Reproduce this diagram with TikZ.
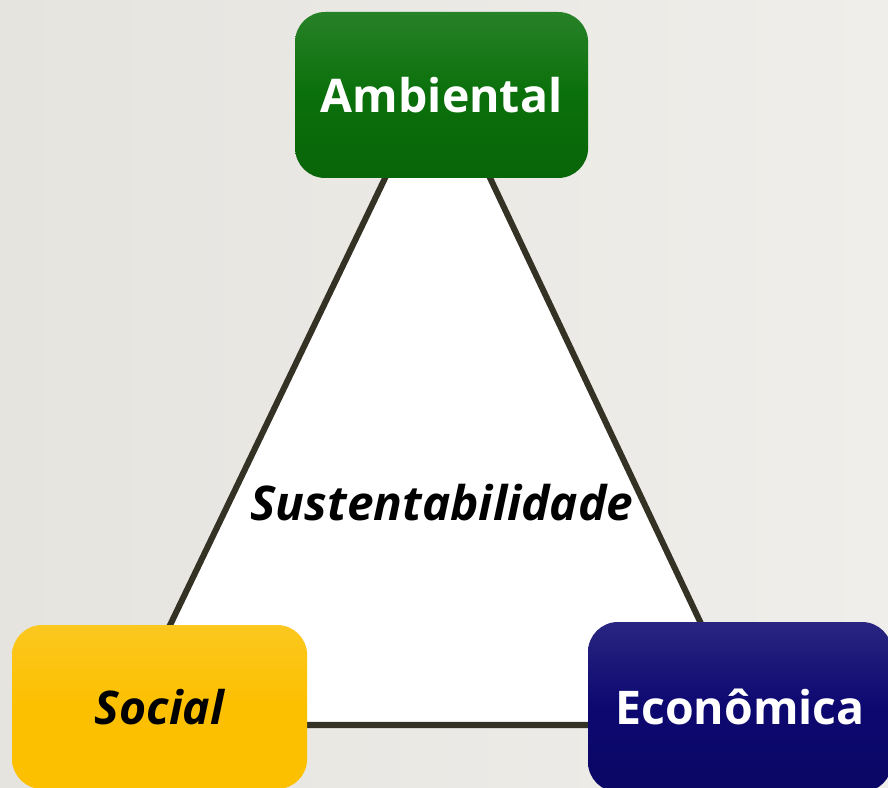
\documentclass[tikz,border=0pt]{standalone}
\usepackage{fontspec}
\setmainfont{Open Sans}
\definecolor{fundo}{RGB}{230,228,223}
\definecolor{fundoclaro}{RGB}{239,238,234}
\definecolor{verde}{RGB}{10,112,10}
\definecolor{amarelo}{RGB}{252,192,0}
\definecolor{azul}{RGB}{12,8,112}
\definecolor{contorno}{RGB}{52,50,36}
\tikzset{
  caixa/.style={rounded corners=0.75cm, inner sep=0pt, font=\fontsize{33}{40}\selectfont\bfseries},
  lado/.style={line width=4.3pt, color=contorno, fill=white, line join=round},
}

\begin{document}
\begin{tikzpicture}
			%%%%% FUNDO %%%%%
			\useasboundingbox (0, 0) rectangle (22.2, 19.675);
			\shade[left color=fundo, right color=fundoclaro] (0, 0) rectangle (22.2, 19.675);
			
			%%%%% TRIANGULO %%%%%
			\coordinate (topo) at (10.95, 17.975);
			\coordinate (esq) at (3.05, 1.55);
			\coordinate (dir) at (18.725, 1.55);
			\draw[lado] (topo) -- (esq) -- (dir) -- cycle;
			
			\node[font=\fontsize{34}{40}\selectfont\bfseries\itshape] (sustent) at (11.05, 7.1) {Sustentabilidade};
			
			%%%%% CAIXAS %%%%%
			\node[caixa, top color=verde!88!white, bottom color=verde!90!black, middle color=verde, text=white, minimum width=7.325cm, minimum height=4.15cm] (ambiental) at (11.04, 17.3) {Ambiental};
			\node[caixa, top color=amarelo!88!white, bottom color=amarelo, middle color=amarelo, text=black, font=\fontsize{33}{40}\selectfont\bfseries\itshape, minimum width=7.375cm, minimum height=4.1cm] (social) at (3.99, 2.0) {Social};
			\node[caixa, top color=azul!88!white, bottom color=azul!90!black, middle color=azul, text=white, minimum width=7.6cm, minimum height=4.25cm] (economica) at (18.5, 2.0) {Econômica};
			
			%%%%% FIM %%%%%
		\end{tikzpicture}
\end{document}
